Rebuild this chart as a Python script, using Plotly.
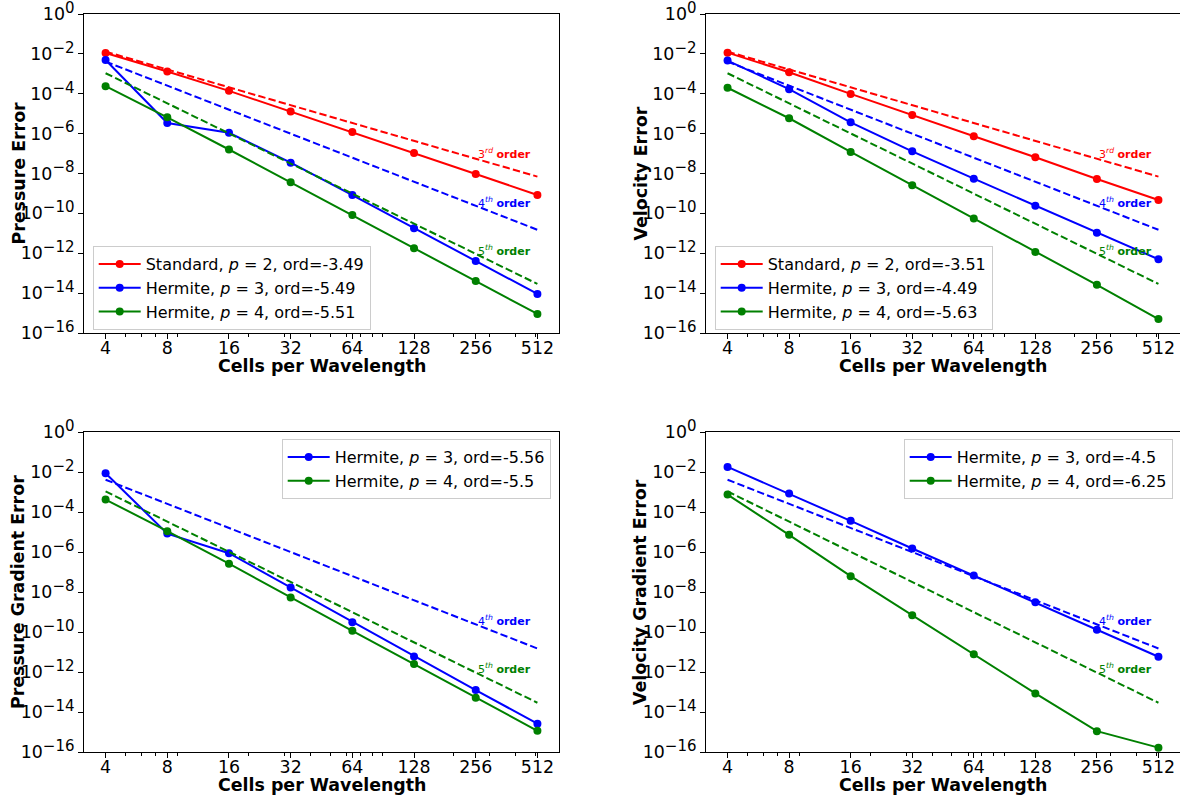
import math
import plotly.graph_objects as go

# ---------------- data ----------------
cells = [4, 8, 16, 32, 64, 128, 256, 512]
tick_labels_x = ["4", "8", "16", "32", "64", "128", "256", "512"]

pressure_standard_p2 = [1.1e-2, 1.3e-3, 1.4e-4, 1.3e-5, 1.2e-6, 1.07e-7, 9.5e-9, 8.3e-10]
pressure_hermite_p3 = [4.9e-3, 3.4e-6, 1.1e-6, 3.5e-8, 8.3e-10, 1.8e-11, 4.1e-13, 9.1e-15]
pressure_hermite_p4 = [2.4e-4, 6.6e-6, 1.6e-7, 3.6e-9, 8.3e-11, 1.8e-12, 4.1e-14, 9.0e-16]

velocity_standard_p2 = [1.15e-2, 1.2e-3, 9.8e-5, 8.6e-6, 7.4e-7, 6.5e-8, 5.3e-9, 4.7e-10]
velocity_hermite_p3 = [4.6e-3, 1.7e-4, 3.7e-6, 1.3e-7, 5.5e-9, 2.4e-10, 1.07e-11, 5.0e-13]
velocity_hermite_p4 = [2.0e-4, 5.9e-6, 1.2e-7, 2.6e-9, 5.5e-11, 1.16e-12, 2.6e-14, 5.0e-16]

pgrad_hermite_p3 = [8.7e-3, 8.3e-6, 8.7e-7, 1.7e-8, 3.1e-10, 6.0e-12, 1.25e-13, 2.6e-15]
pgrad_hermite_p4 = [4.2e-4, 1.1e-5, 2.6e-7, 5.3e-9, 1.15e-10, 2.5e-12, 5.2e-14, 1.15e-15]

vgrad_hermite_p3 = [1.8e-2, 8.3e-4, 3.6e-5, 1.5e-6, 6.6e-8, 3.1e-9, 1.3e-10, 5.8e-12]
vgrad_hermite_p4 = [7.4e-4, 7.2e-6, 6.2e-8, 6.9e-10, 7.8e-12, 8.5e-14, 1.1e-15, 1.65e-16]

# reference order lines (end points)
ref_cells = [4, 512]
ref_3rd = [1.3e-2, 7.0e-9]
ref_4th = [4.1e-3, 1.5e-11]
ref_5th = [1.07e-3, 2.9e-14]

legend_pressure = ["Standard, <i>p</i> = 2, ord=-3.49", "Hermite, <i>p</i> = 3, ord=-5.49", "Hermite, <i>p</i> = 4, ord=-5.51"]
legend_velocity = ["Standard, <i>p</i> = 2, ord=-3.51", "Hermite, <i>p</i> = 3, ord=-4.49", "Hermite, <i>p</i> = 4, ord=-5.63"]
legend_pgrad = ["Hermite, <i>p</i> = 3, ord=-5.56", "Hermite, <i>p</i> = 4, ord=-5.5"]
legend_vgrad = ["Hermite, <i>p</i> = 3, ord=-4.5", "Hermite, <i>p</i> = 4, ord=-6.25"]

y_titles = ["Pressure Error", "Velocity Error", "Pressure Gradient Error", "Velocity Gradient Error"]
y_tick_exps = [0, -2, -4, -6, -8, -10, -12, -14, -16]

# ---------------- style ----------------
RED, BLUE, GREEN = "#ff0000", "#0000ff", "#008000"
FONT = "DejaVu Sans"
W, H = 1180, 799
DASH = "7.4px,3.2px"
TICK_FS = 17.4
TITLE_FS = 17.4

# panel pixel boxes: (left, right, top, bottom)
panels = [
    (84, 559, 14, 333),
    (706, 1180, 14, 333),
    (84, 559, 432, 752),
    (706, 1180, 432, 752),
]

fig = go.Figure()


def add_series(idx, x, y, color, name, legend_name):
    sfx = "" if idx == 0 else str(idx + 1)
    fig.add_trace(go.Scatter(
        x=x, y=y, mode="lines+markers", name=name,
        line=dict(color=color, width=2), marker=dict(color=color, size=8),
        xaxis="x" + sfx, yaxis="y" + sfx, legend=legend_name, showlegend=True,
    ))


def add_ref(idx, y, color):
    sfx = "" if idx == 0 else str(idx + 1)
    fig.add_trace(go.Scatter(
        x=ref_cells, y=y, mode="lines", line=dict(color=color, width=2, dash=DASH),
        xaxis="x" + sfx, yaxis="y" + sfx, showlegend=False, hoverinfo="skip",
    ))


# panel 1: pressure
add_series(0, cells, pressure_standard_p2, RED, legend_pressure[0], "legend")
add_series(0, cells, pressure_hermite_p3, BLUE, legend_pressure[1], "legend")
add_series(0, cells, pressure_hermite_p4, GREEN, legend_pressure[2], "legend")
add_ref(0, ref_3rd, RED)
add_ref(0, ref_4th, BLUE)
add_ref(0, ref_5th, GREEN)

# panel 2: velocity
add_series(1, cells, velocity_standard_p2, RED, legend_velocity[0], "legend2")
add_series(1, cells, velocity_hermite_p3, BLUE, legend_velocity[1], "legend2")
add_series(1, cells, velocity_hermite_p4, GREEN, legend_velocity[2], "legend2")
add_ref(1, ref_3rd, RED)
add_ref(1, ref_4th, BLUE)
add_ref(1, ref_5th, GREEN)

# panel 3: pressure gradient
add_series(2, cells, pgrad_hermite_p3, BLUE, legend_pgrad[0], "legend3")
add_series(2, cells, pgrad_hermite_p4, GREEN, legend_pgrad[1], "legend3")
add_ref(2, ref_4th, BLUE)
add_ref(2, ref_5th, GREEN)

# panel 4: velocity gradient
add_series(3, cells, vgrad_hermite_p3, BLUE, legend_vgrad[0], "legend4")
add_series(3, cells, vgrad_hermite_p4, GREEN, legend_vgrad[1], "legend4")
add_ref(3, ref_4th, BLUE)
add_ref(3, ref_5th, GREEN)

x_range = [math.log10(4) - 0.35 * math.log10(2), math.log10(512) + 0.35 * math.log10(2)]
x_minor = [5, 6, 7, 9, 20, 30, 40, 50, 60, 70, 80, 90, 200, 300, 400, 500]

layout = dict(
    width=W, height=H,
    margin=dict(l=0, r=0, t=0, b=0, autoexpand=False),
    paper_bgcolor="white", plot_bgcolor="white",
    font=dict(family=FONT, size=TICK_FS, color="black"),
    annotations=[],
)

y_ticktext = [
    '10<sup><span style="font-size:15px">%s</span></sup>' % (str(e).replace("-", "\u2212"))
    for e in y_tick_exps
]

for i, (l, r, t, b) in enumerate(panels):
    sfx = "" if i == 0 else str(i + 1)
    layout["xaxis" + sfx] = dict(
        type="log", range=x_range, automargin=False,
        domain=[l / W, min(r / W, 1.0)],
        anchor="y" + sfx,
        tickmode="array", tickvals=cells, ticktext=tick_labels_x,
        ticks="outside", ticklen=5, tickwidth=1, tickcolor="black",
        ticklabelstandoff=-6, ticklabeloverflow="allow",
        minor=dict(tickvals=x_minor, ticks="outside", ticklen=3, tickwidth=1, tickcolor="black"),
        showline=True, linecolor="black", linewidth=1, mirror=True,
        showgrid=False, zeroline=False,
        tickfont=dict(family=FONT, size=TICK_FS, color="black"),
    )
    layout["yaxis" + sfx] = dict(
        type="log", range=[-16, 0], automargin=False,
        domain=[1 - b / H, 1 - t / H],
        anchor="x" + sfx,
        tickmode="array",
        tickvals=[10.0 ** e for e in y_tick_exps],
        ticktext=y_ticktext,
        ticks="outside", ticklen=5, tickwidth=1, tickcolor="black",
        ticklabeloverflow="allow",
        showline=True, linecolor="black", linewidth=1, mirror=True,
        showgrid=False, zeroline=False,
        tickfont=dict(family=FONT, size=TICK_FS, color="black"),
    )
    # axis titles
    layout["annotations"].append(dict(
        text="<b>Cells per Wavelength</b>", xref="paper", yref="paper",
        x=(l + min(r, 1180)) / 2 / W, y=1 - (b + 33) / H,
        xanchor="center", yanchor="middle", showarrow=False,
        font=dict(family=FONT, size=TITLE_FS, color="black"),
    ))
    layout["annotations"].append(dict(
        text="<b>%s</b>" % y_titles[i], xref="paper", yref="paper",
        x=(l - 66) / W, y=1 - (t + b) / 2 / H, textangle=-90,
        xanchor="center", yanchor="middle", showarrow=False,
        font=dict(family=FONT, size=TITLE_FS, color="black"),
    ))

# order labels
order_labels = [
    ("3<sup><i>rd</i></sup> <b>order</b>", -7.02, RED),
    ("4<sup><i>th</i></sup> <b>order</b>", -9.44, BLUE),
    ("5<sup><i>th</i></sup> <b>order</b>", -11.84, GREEN),
]
for i in range(4):
    sfx = "" if i == 0 else str(i + 1)
    for j, (txt, yv, col) in enumerate(order_labels):
        if i >= 2 and j == 0:
            continue
        layout["annotations"].append(dict(
            text=txt, xref="x" + sfx, yref="y" + sfx,
            x=math.log10(256), y=yv, xanchor="left", yanchor="middle",
            showarrow=False,
            font=dict(family=FONT, size=11, color=col),
        ))

legend_common = dict(
    bgcolor="rgba(255,255,255,0.8)", bordercolor="#cccccc", borderwidth=1,
    font=dict(family=FONT, size=16, color="black"),
    xanchor="left", yanchor="top", itemwidth=42, tracegroupgap=0,
)
layout["legend"] = dict(legend_common, x=92.7 / W, y=1 - 246 / H)
layout["legend2"] = dict(legend_common, x=714.7 / W, y=1 - 246 / H)
layout["legend3"] = dict(legend_common, x=281.7 / W, y=1 - 439 / H)
layout["legend4"] = dict(legend_common, x=903.7 / W, y=1 - 439 / H)

fig.update_layout(**layout)
fig.write_html("out.html")
